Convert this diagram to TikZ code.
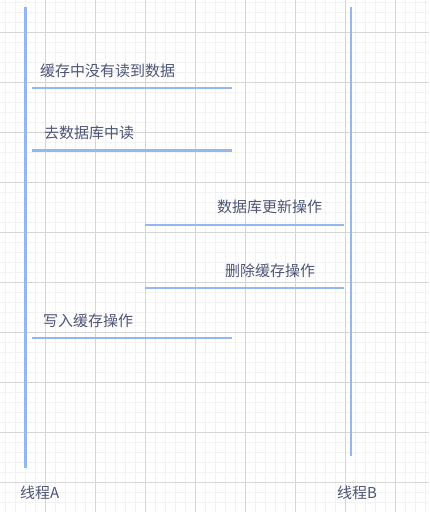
\documentclass[tikz,border=0pt]{standalone}
\usepackage{fontspec}
\setmainfont{Noto Sans CJK SC}
\definecolor{lineblue}{HTML}{93B7EE}
\definecolor{txt}{HTML}{4D5578}
\definecolor{gmajor}{HTML}{D6D6D6}
\definecolor{gminor}{HTML}{F2F2F2}
\begin{document}
\begin{tikzpicture}[x=1pt,y=-1pt,
  thread/.style={draw=lineblue,line width=2.4pt},
  msg/.style={draw=lineblue,line width=2.4pt},
  lbl/.style={inner sep=0pt,anchor=west,text=txt,font=\fontsize{15}{17}\selectfont}]
\useasboundingbox (0,0) rectangle (429,512);
\fill[white] (0,0) rectangle (429,512);
% grid
\foreach \x in {5,15,...,425} \draw[gminor,line width=0.6pt] (\x,0) -- (\x,512);
\foreach \y in {2,12,...,512} \draw[gminor,line width=0.6pt] (0,\y) -- (429,\y);
\foreach \x in {45,95,...,425} \draw[gmajor,line width=0.7pt] (\x,0) -- (\x,512);
\foreach \y in {32,82,...,512} \draw[gmajor,line width=0.7pt] (0,\y) -- (429,\y);
% threads
\coordinate (a0) at (25.5,7);
\coordinate (a1) at (25.5,468);
\coordinate (b0) at (350.7,7);
\coordinate (b1) at (350.7,456);
\draw[thread] (a0) -- (a1);
\draw[thread] (b0) -- (b1);
% message lines
\coordinate (m1s) at (32,88);   \coordinate (m1e) at (232,88);
\coordinate (m2s) at (32,150.5);  \coordinate (m2e) at (232,150.5);
\coordinate (m3s) at (145,225); \coordinate (m3e) at (344,225);
\coordinate (m4s) at (145,287.7); \coordinate (m4e) at (344,287.7);
\coordinate (m5s) at (32,337.7);  \coordinate (m5e) at (232,337.7);
\draw[msg] (m1s) -- (m1e);
\draw[msg] (m2s) -- (m2e);
\draw[msg] (m3s) -- (m3e);
\draw[msg] (m4s) -- (m4e);
\draw[msg] (m5s) -- (m5e);
% labels
\node[lbl] (t1) at (40,71) {缓存中没有读到数据};
\node[lbl] (t2) at (44,133) {去数据库中读};
\node[lbl] (t3) at (217,207) {数据库更新操作};
\node[lbl] (t4) at (225,271) {删除缓存操作};
\node[lbl] (t5) at (43,321) {写入缓存操作};
\node[lbl] (ta) at (20,493) {线程A};
\node[lbl] (tb) at (337,493) {线程B};
\end{tikzpicture}
\end{document}
